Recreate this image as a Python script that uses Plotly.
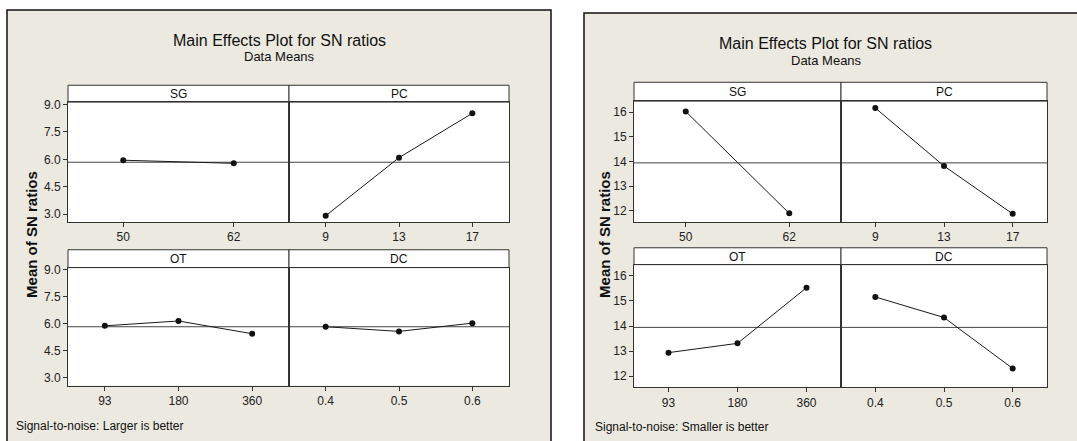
import plotly.graph_objects as go
import numpy as np

W, H = 1077, 441

# ---------------- data ----------------
factors = ["SG", "PC", "OT", "DC"]
sg_levels = ["50", "62"]
pc_levels = ["9", "13", "17"]
ot_levels = ["93", "180", "360"]
dc_levels = ["0.4", "0.5", "0.6"]

larger_sg = [5.95, 5.78]
larger_pc = [2.91, 6.09, 8.52]
larger_ot = [5.89, 6.16, 5.45]
larger_dc = [5.84, 5.58, 6.04]

smaller_sg = [16.03, 11.90]
smaller_pc = [16.17, 13.82, 11.88]
smaller_ot = [12.94, 13.31, 15.53]
smaller_dc = [15.16, 14.34, 12.31]

larger_ticks = [3.0, 4.5, 6.0, 7.5, 9.0]
smaller_ticks = [12, 13, 14, 15, 16]

titles = ["Main Effects Plot for SN ratios", "Main Effects Plot for SN ratios"]
subtitle = "Data Means"
ytitle = "<b>Mean of SN ratios</b>"
footers = ["Signal-to-noise: Larger is better", "Signal-to-noise: Smaller is better"]

levels = [sg_levels, pc_levels, ot_levels, dc_levels]
series = [[larger_sg, larger_pc, larger_ot, larger_dc],
          [smaller_sg, smaller_pc, smaller_ot, smaller_dc]]

# ---------------- layout geometry (pixels) ----------------
FONT = "Liberation Sans, Arial, sans-serif"
BEIGE = "#ECE9E0"
charts = [
    dict(frame=(7, 6, 551, 460), title=(279, 37), sub=(279, 53), ytl=(32, 233),
         foot=(14, 426), cols=[(68, 289), (289, 509)],
         rows=[(82, 99, 220), (248, 266, 385)], yrange=[2.57, 9.13],
         ticks=larger_ticks, fmt=".1f"),
    dict(frame=(584, 9, 1090, 460), title=(825, 40), sub=(826, 57), ytl=(605, 233),
         foot=(593, 427), cols=[(634, 841), (841, 1047)],
         rows=[(79, 98, 220), (246, 263, 387)], yrange=[11.55, 16.45],
         ticks=smaller_ticks, fmt="d"),
]


def px(x):
    return x / W


def py(y):
    return 1 - y / H


fig = go.Figure()
shapes = []
annotations = []
layout_axes = {}

ax_i = 0
for ci, ch in enumerate(charts):
    x0, y0, x1, y1 = ch["frame"]
    shapes.append(dict(type="rect", xref="paper", yref="paper", layer="below",
                       x0=px(x0), x1=px(x1), y0=py(y1), y1=py(y0),
                       fillcolor=BEIGE, line=dict(color="#111", width=1.5)))
    annotations.append(dict(text=titles[ci], x=px(ch["title"][0]), y=py(ch["title"][1]),
                            xref="paper", yref="paper", showarrow=False,
                            xanchor="center", yanchor="middle",
                            font=dict(family=FONT, size=16, color="#111")))
    annotations.append(dict(text=subtitle, x=px(ch["sub"][0]), y=py(ch["sub"][1]),
                            xref="paper", yref="paper", showarrow=False,
                            xanchor="center", yanchor="middle",
                            font=dict(family=FONT, size=13, color="#111")))
    annotations.append(dict(text=ytitle, x=px(ch["ytl"][0]), y=py(ch["ytl"][1]),
                            xref="paper", yref="paper", showarrow=False, textangle=-90,
                            xanchor="center", yanchor="middle",
                            font=dict(family=FONT, size=15, color="#111")))
    annotations.append(dict(text=footers[ci], x=px(ch["foot"][0]), y=py(ch["foot"][1]),
                            xref="paper", yref="paper", showarrow=False,
                            xanchor="left", yanchor="middle",
                            font=dict(family=FONT, size=12, color="#111")))

    vals_all = series[ci]
    grand = float(np.mean([np.mean(v) for v in vals_all]))

    for fi, fac in enumerate(factors):
        r, c = divmod(fi, 2)
        ax_i += 1
        xa = "x" if ax_i == 1 else f"x{ax_i}"
        ya = "y" if ax_i == 1 else f"y{ax_i}"
        xk = "xaxis" if ax_i == 1 else f"xaxis{ax_i}"
        yk = "yaxis" if ax_i == 1 else f"yaxis{ax_i}"
        cx0, cx1 = ch["cols"][c]
        st, sb, bot = ch["rows"][r]
        lv = levels[fi]
        vals = vals_all[fi]
        n = len(lv)
        pos = list(range(n))

        # white panel background + strip
        shapes.append(dict(type="rect", xref="paper", yref="paper", layer="below",
                           x0=px(cx0), x1=px(cx1), y0=py(bot), y1=py(sb),
                           fillcolor="white", line=dict(width=0)))
        shapes.append(dict(type="rect", xref="paper", yref="paper", layer="below",
                           x0=px(cx0), x1=px(cx1), y0=py(sb), y1=py(st),
                           fillcolor="white", line=dict(color="#333", width=1)))
        annotations.append(dict(text=fac, x=px((cx0 + cx1) / 2), y=py((st + sb) / 2 + 0.5),
                                xref="paper", yref="paper", showarrow=False,
                                xanchor="center", yanchor="middle",
                                font=dict(family=FONT, size=12, color="#111")))
        # grand mean reference line
        shapes.append(dict(type="line", xref=f"{xa} domain", yref=ya, layer="below",
                           x0=0, x1=1, y0=grand, y1=grand,
                           line=dict(color="#444", width=1)))

        fig.add_trace(go.Scatter(x=pos, y=vals, xaxis=xa, yaxis=ya, mode="lines+markers",
                                 line=dict(color="#1a1a1a", width=1),
                                 marker=dict(color="#111", size=6, symbol="circle"),
                                 showlegend=False, hoverinfo="skip"))

        layout_axes[xk] = dict(domain=[px(cx0), px(cx1)], anchor=ya,
                               range=[-0.5, n - 0.5], tickvals=pos, ticktext=lv,
                               showgrid=False, zeroline=False, showline=True, mirror=True,
                               linecolor="#333", linewidth=1, ticks="outside", ticklen=4,
                               tickcolor="#333", fixedrange=True,
                               tickfont=dict(family=FONT, size=12, color="#222"))
        left = (c == 0)
        layout_axes[yk] = dict(domain=[py(bot), py(sb)], anchor=xa,
                               range=ch["yrange"], tickvals=ch["ticks"],
                               tickformat=ch["fmt"], showticklabels=left,
                               ticks="outside" if left else "", ticklen=4, tickcolor="#333",
                               showgrid=False, zeroline=False, showline=True, mirror=True,
                               linecolor="#333", linewidth=1, fixedrange=True,
                               tickfont=dict(family=FONT, size=12, color="#222"))

fig.update_layout(
    width=W, height=H, margin=dict(l=0, r=0, t=0, b=0),
    paper_bgcolor="white", plot_bgcolor="rgba(0,0,0,0)",
    shapes=shapes, annotations=annotations, showlegend=False,
    **layout_axes,
)

fig.write_html("out.html", config={"displayModeBar": False},
               post_script="document.body.style.margin='0';document.body.style.overflow='hidden';")
